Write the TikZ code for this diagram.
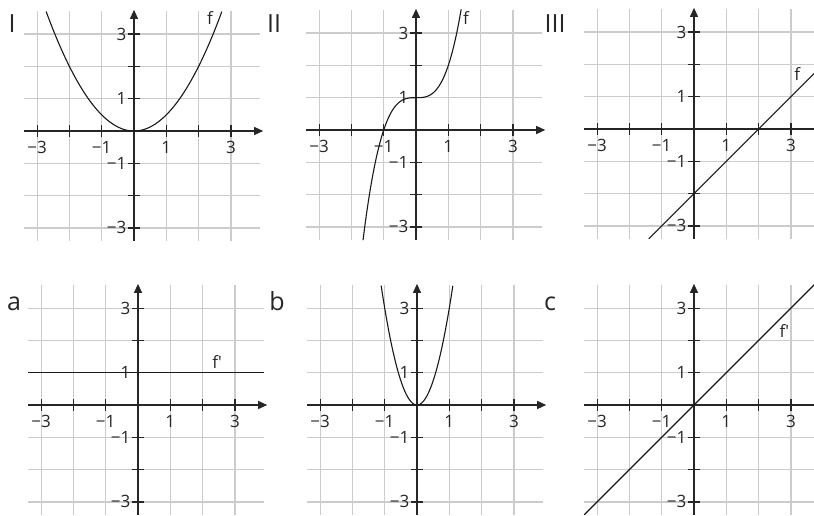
\documentclass[tikz,border=0pt]{standalone}
\usepackage{fontspec}
\setmainfont{Open Sans}
\usetikzlibrary{arrows.meta}

% one coordinate system: grid, axes, ticks and tick labels
\newcommand{\koordsystem}{%
    \foreach \k in {-3,...,3} {
        \draw[gridline] (\k,-3.4) -- (\k,3.7);
        \draw[gridline] (-3.4,\k) -- (3.9,\k);
    }
    \draw[axis] (-3.4,0) -- (4.0,0);
    \draw[axis] (0,-3.4) -- (0,3.75);
    \foreach \k in {-3,...,3} {
        \draw[tick] (\k,-0.18) -- (\k,0.18);
        \draw[tick] (-0.18,\k) -- (0.18,\k);
    }
    \foreach \k/\t in {-3/−3,-1/−1,1/1,3/3} {
        \node[ticklabel] (xl\k) at (\k,-0.5) {\t};
        \node[ticklabel, anchor=east] (yl\k) at (-0.2,\k) {\t};
    }
}

\begin{document}
\begin{tikzpicture}[x=1pt, y=1pt,
    gridline/.style={gray!40, line width=1.2pt},
    axis/.style={black!85, line width=1.2pt, -{Triangle[length=9pt,width=8pt]}},
    tick/.style={black!85, line width=1.2pt},
    graph/.style={black!90, line width=1.1pt},
    ticklabel/.style={font=\fontsize{17}{17}\selectfont, inner sep=1pt, text=black!85},
    funlabel/.style={font=\fontsize{17}{17}\selectfont, inner sep=0pt, text=black!85},
    panellabel/.style={font=\fontsize{25}{25}\selectfont, inner sep=0pt, anchor=base, text=black!85}]

    \useasboundingbox (0,0) rectangle (814,515);
    \clip (0,0) rectangle (814,515);

    % panel labels
    \node[panellabel] (labI) at (12,482) {I};
    \node[panellabel] (labII) at (274,482) {II};
    \node[panellabel] (labIII) at (555,482) {III};
    \node[panellabel] (laba) at (14,205) {a};
    \node[panellabel] (labb) at (277,205) {b};
    \node[panellabel] (labc) at (550,205) {c};

    % I
    \begin{scope}[shift={(134,384)}, x=32.3pt, y=32.3pt]
        \koordsystem
        \draw[graph, domain=-2.72:2.72, samples=80] plot (\x,{0.5*\x*\x});
        \node[funlabel] (fI) at (2.35,3.5) {f};
    \end{scope}

    % II
    \begin{scope}[shift={(416,385)}, x=32.3pt, y=32.3pt]
        \koordsystem
        \draw[graph, domain=-1.64:1.40, samples=80] plot (\x,{\x*\x*\x+1});
        \node[funlabel] (fII) at (1.55,3.47) {f};
    \end{scope}

    % III
    \begin{scope}[shift={(694,386)}, x=32.3pt, y=32.3pt]
        \koordsystem
        \draw[graph] (-1.4,-3.4) -- (3.9,1.9);
        \node[funlabel] (fIII) at (3.2,1.7) {f};
    \end{scope}

    % a
    \begin{scope}[shift={(138,110)}, x=32.3pt, y=32.3pt]
        \koordsystem
        \draw[graph] (-3.4,1) -- (3.9,1);
        \node[funlabel] (fa) at (2.45,1.32) {f\textquotesingle};
    \end{scope}

    % b
    \begin{scope}[shift={(417,110)}, x=32.3pt, y=32.3pt]
        \koordsystem
        \draw[graph, domain=-1.11:1.11, samples=80] plot (\x,{3*\x*\x});
    \end{scope}

    % c
    \begin{scope}[shift={(694,110)}, x=32.3pt, y=32.3pt]
        \koordsystem
        \draw[graph] (-3.4,-3.4) -- (3.8,3.8);
        \node[funlabel] (fc) at (2.8,2.3) {f\textquotesingle};
    \end{scope}
\end{tikzpicture}
\end{document}
